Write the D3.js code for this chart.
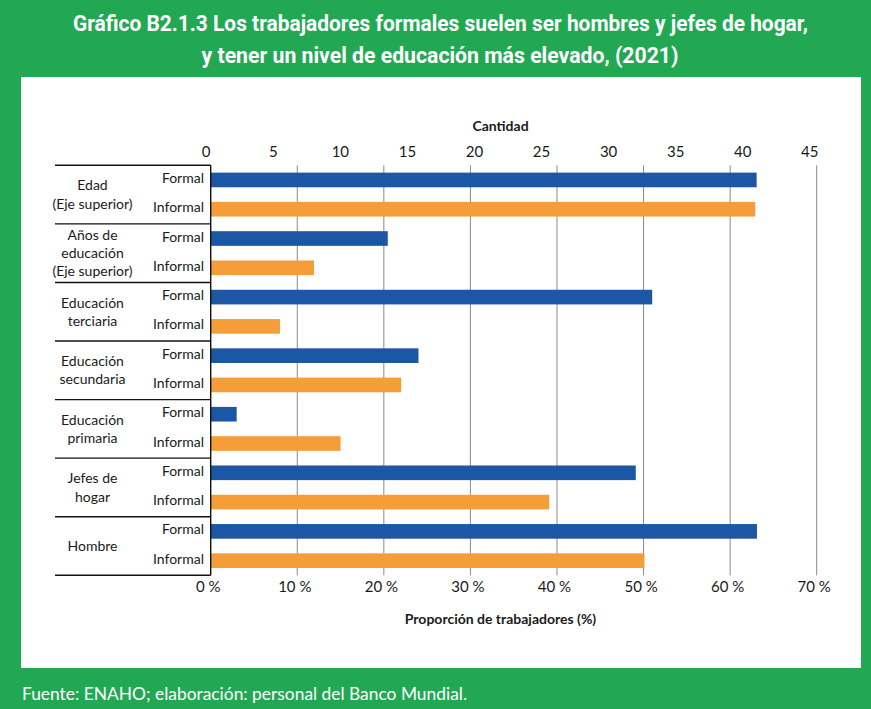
<!DOCTYPE html>
<html><head><meta charset="utf-8">
<script src="https://cdn.jsdelivr.net/npm/d3@7/dist/d3.min.js"></script>
<style>
html,body{margin:0;padding:0;background:#22a853;}
svg{display:block;}
</style></head>
<body>
<svg id="chart" width="871" height="709"></svg>
<script>
// ---- data ----
const groups = ["Edad", "Años de educación", "Educación terciaria", "Educación secundaria", "Educación primaria", "Jefes de hogar", "Hombre"];
const groupLabels = [["Edad", "(Eje superior)"], ["Años de", "educación", "(Eje superior)"], ["Educación", "terciaria"], ["Educación", "secundaria"], ["Educación", "primaria"], ["Jefes de", "hogar"], ["Hombre"]];
const topAxisGroups = ["Edad", "Años de educación"];   // measured on the top (Cantidad) axis
const series = ["Formal", "Informal"];
const formalValues   = [40.7, 13.2, 51.0, 24.0, 3.0, 49.1, 63.1];
const informalValues = [40.6, 7.7, 8.0, 22.0, 15.0, 39.1, 50.1];
const topTicks = [0, 5, 10, 15, 20, 25, 30, 35, 40, 45];
const bottomTicks = [0, 10, 20, 30, 40, 50, 60, 70];
const title1 = "Gráfico B2.1.3 Los trabajadores formales suelen ser hombres y jefes de hogar,";
const title2 = "y tener un nivel de educación más elevado, (2021)";
const topAxisTitle = "Cantidad";
const bottomAxisTitle = "Proporción de trabajadores (%)";
const source = "Fuente: ENAHO; elaboración: personal del Banco Mundial.";

const colors = {Formal: "#1b57a5", Informal: "#f59d38"};
const FONT = "Lato, 'Open Sans', sans-serif";

const svg = d3.select("#chart");
// background
svg.append("rect").attr("width", 871).attr("height", 709).attr("fill", "#22a853");
svg.append("rect").attr("x", 21).attr("y", 77).attr("width", 840).attr("height", 591).attr("fill", "#fff");

// title
const titleFont = "'Liberation Sans Narrow', 'Roboto', sans-serif";
svg.append("text").attr("x", 440.5).attr("y", 31).attr("text-anchor", "middle")
  .attr("fill", "#fff").attr("font-family", titleFont).attr("font-weight", "bold").attr("font-size", 22.5)
  .attr("textLength", 735).attr("lengthAdjust", "spacingAndGlyphs").text(title1);
svg.append("text").attr("x", 440).attr("y", 63).attr("text-anchor", "middle")
  .attr("fill", "#fff").attr("font-family", titleFont).attr("font-weight", "bold").attr("font-size", 22.5)
  .attr("textLength", 477).attr("lengthAdjust", "spacingAndGlyphs").text(title2);

// footer
svg.append("text").attr("x", 22).attr("y", 700).attr("fill", "#fff")
  .attr("font-family", FONT).attr("font-size", 16.5)
  .attr("textLength", 445).attr("lengthAdjust", "spacingAndGlyphs").text(source);

// scales
const xB = d3.scaleLinear().domain([0, 70]).range([210.7, 816.7]);
const xT = d3.scaleLinear().domain([0, 45]).range([210.7, 814.3]);
const yTop = 165.3, yBottom = 575.3;
const y = d3.scaleBand().domain(groups).range([yTop, yBottom]).padding(0);
const yIn = d3.scaleBand().domain(series).range([0, y.bandwidth()]).paddingInner(0.5).paddingOuter(0.25);

// gridlines
svg.append("g").selectAll("line").data(bottomTicks.slice(1)).join("line")
  .attr("x1", d => xB(d)).attr("x2", d => xB(d)).attr("y1", yTop).attr("y2", yBottom)
  .attr("stroke", "#8a8a8a").attr("stroke-width", 1);

// bars
const rows = [];
groups.forEach((g, i) => {
  rows.push({g, s: "Formal", v: formalValues[i]});
  rows.push({g, s: "Informal", v: informalValues[i]});
});
svg.append("g").selectAll("rect").data(rows).join("rect")
  .attr("x", xB(0))
  .attr("y", d => y(d.g) + yIn(d.s))
  .attr("height", yIn.bandwidth())
  .attr("width", d => topAxisGroups.includes(d.g) ? xT(d.v) - xT(0) : xB(d.v) - xB(0))
  .attr("fill", d => colors[d.s]);

// row labels
svg.append("g").selectAll("text").data(rows).join("text")
  .attr("x", 204).attr("y", d => y(d.g) + yIn(d.s) + yIn.bandwidth() / 2 + 3)
  .attr("text-anchor", "end").attr("font-family", FONT).attr("font-size", 14).attr("fill", "#1a1a1a")
  .text(d => d.s);

// group labels
const gl = svg.append("g").selectAll("text").data(groups).join("text")
  .attr("text-anchor", "middle").attr("font-family", FONT).attr("font-size", 14).attr("fill", "#1a1a1a");
gl.each(function (g, i) {
  const lines = groupLabels[i];
  const cy = y(g) + y.bandwidth() / 2;
  const lh = 18.3;
  d3.select(this).selectAll("tspan").data(lines).join("tspan")
    .attr("x", 92.5)
    .attr("y", (d, j) => cy + (j - (lines.length - 1) / 2) * lh + 5)
    .text(d => d);
});

// table lines
svg.append("g").selectAll("line").data(groups.map(g => y(g)).concat([yBottom])).join("line")
  .attr("x1", 55).attr("x2", xB(0)).attr("y1", d => d).attr("y2", d => d)
  .attr("stroke", "#111").attr("stroke-width", 1.4);
svg.append("line").attr("x1", xB(0)).attr("x2", xB(0)).attr("y1", yTop).attr("y2", yBottom)
  .attr("stroke", "#111").attr("stroke-width", 1.4);

// top axis
const axT = svg.append("g").attr("transform", `translate(-5,${157})`)
  .call(d3.axisTop(xT).tickValues(topTicks).tickSize(0).tickPadding(0).tickFormat(d3.format("d")));
axT.select(".domain").remove();
axT.selectAll("text").attr("font-family", FONT).attr("font-size", 15).attr("fill", "#1a1a1a");

svg.append("text").attr("x", 500.5).attr("y", 131).attr("text-anchor", "middle")
  .attr("font-family", FONT).attr("font-weight", "bold").attr("font-size", 14).attr("fill", "#1a1a1a")
  .text(topAxisTitle);

// bottom axis
const axB = svg.append("g").attr("transform", `translate(-3,${581})`)
  .call(d3.axisBottom(xB).tickValues(bottomTicks).tickSize(0).tickPadding(0).tickFormat(d => d + "\u00A0%"));
axB.select(".domain").remove();
axB.selectAll("text").attr("font-family", FONT).attr("font-size", 15).attr("fill", "#1a1a1a");

svg.append("text").attr("x", 500.5).attr("y", 624).attr("text-anchor", "middle")
  .attr("font-family", FONT).attr("font-weight", "bold").attr("font-size", 14).attr("fill", "#1a1a1a")
  .text(bottomAxisTitle);
</script>
</body></html>
